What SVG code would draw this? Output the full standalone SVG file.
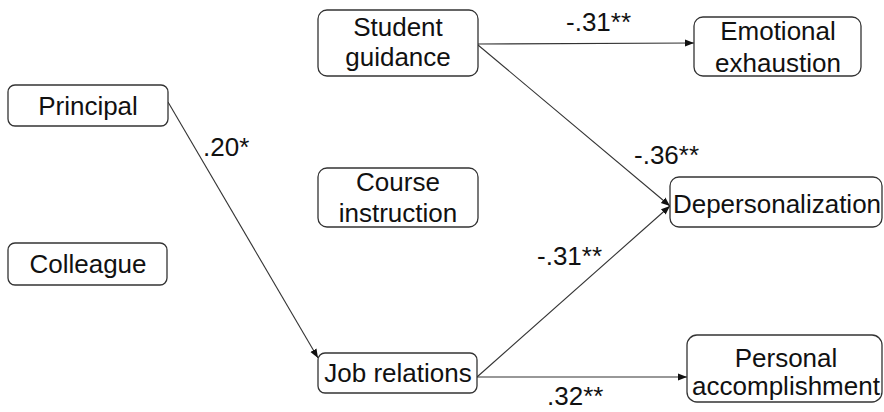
<svg xmlns="http://www.w3.org/2000/svg" width="884" height="412" viewBox="0 0 884 412">
<style>
.box{fill:#fff;stroke:#333;stroke-width:1.3}
.t{font-family:"Liberation Sans",Arial,sans-serif;font-size:26px;fill:#111;text-anchor:middle}
.lbl{font-family:"Liberation Sans",Arial,sans-serif;font-size:26px;fill:#111}
.c{fill:none;stroke:#333;stroke-width:1.1}
</style>
<defs>
<marker id="ah" markerUnits="userSpaceOnUse" markerWidth="10" markerHeight="10" refX="9" refY="5" orient="auto">
<path d="M0,1.5 L9,5 L0,8.5 Z" fill="#111"/>
</marker>
</defs>
<rect width="884" height="412" fill="#fff"/>
<g id="connectors">
<path class="c" d="M168,102 L318,358" marker-end="url(#ah)"/>
<path class="c" d="M478,44 L694,43" marker-end="url(#ah)"/>
<path class="c" d="M478,45 L670,206" marker-end="url(#ah)"/>
<path class="c" d="M477,377 L670,206" marker-end="url(#ah)"/>
<path class="c" d="M477,377 L687,377" marker-end="url(#ah)"/>
<text class="lbl" x="203" y="156">.20*</text>
<text class="lbl" x="566" y="31">-.31**</text>
<text class="lbl" x="634" y="164">-.36**</text>
<text class="lbl" x="537" y="265">-.31**</text>
<text class="lbl" x="547" y="405">.32**</text>
</g>
<g id="principal">
<rect class="box" x="8" y="85" width="160" height="41" rx="7"/>
<text class="t" x="88" y="115">Principal</text>
</g>
<g id="colleague">
<rect class="box" x="8" y="243" width="159" height="42" rx="7"/>
<text class="t" x="88" y="273">Colleague</text>
</g>
<g id="student-guidance">
<rect class="box" x="318" y="10" width="160" height="66" rx="9"/>
<text class="t" x="398" y="36">Student</text>
<text class="t" x="398" y="66">guidance</text>
</g>
<g id="course-instruction">
<rect class="box" x="318" y="168" width="160" height="59" rx="9"/>
<text class="t" x="398" y="191">Course</text>
<text class="t" x="398" y="222">instruction</text>
</g>
<g id="job-relations">
<rect class="box" x="318" y="353" width="159" height="40" rx="7"/>
<text class="t" x="398" y="382">Job relations</text>
</g>
<g id="emotional-exhaustion">
<rect class="box" x="694" y="17" width="167" height="59" rx="9"/>
<text class="t" x="778" y="40">Emotional</text>
<text class="t" x="778" y="72">exhaustion</text>
</g>
<g id="depersonalization">
<rect class="box" x="670" y="177" width="212" height="50" rx="9"/>
<text class="t" x="777" y="213">Depersonalization</text>
</g>
<g id="personal-accomplishment">
<rect class="box" x="687" y="335" width="195" height="67" rx="10"/>
<text class="t" x="786" y="367">Personal</text>
<text class="t" x="786" y="395">accomplishment</text>
</g>
</svg>
